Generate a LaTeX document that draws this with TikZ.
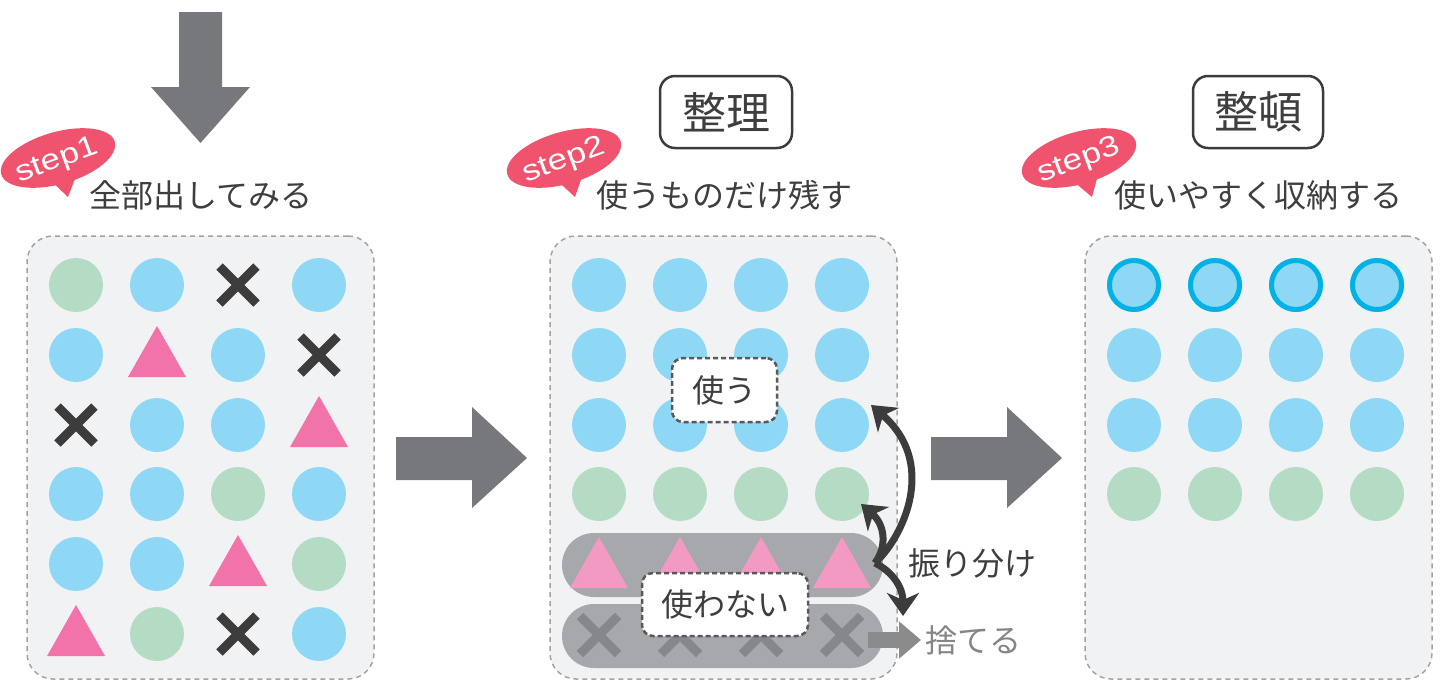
\documentclass[tikz,border=0pt]{standalone}
\usepackage{fontspec}
\setmainfont{Liberation Sans}
\newfontfamily\jp{Noto Sans CJK JP}
\usetikzlibrary{arrows.meta,shapes.geometric}
\definecolor{cpanel}{HTML}{F1F2F4}
\definecolor{cpanelborder}{HTML}{A3A3A3}
\definecolor{cblue}{HTML}{8ED8F6}
\definecolor{cgreen}{HTML}{B4DCC4}
\definecolor{cpink}{HTML}{F173AA}
\definecolor{cpinklight}{HTML}{F29AC3}
\definecolor{cdark}{HTML}{3C3C3C}
\definecolor{cxgray}{HTML}{86878A}
\definecolor{cpill}{HTML}{A7A8AB}
\definecolor{carrow}{HTML}{77787B}
\definecolor{cbadge}{HTML}{EF536D}
\definecolor{cring}{HTML}{00B2E6}
\definecolor{ctext}{HTML}{3E3E3E}
\definecolor{cgraytext}{HTML}{858585}
\definecolor{cgrayarrow}{HTML}{8A8B8D}
\tikzset{
  panel/.style={draw=cpanelborder, fill=cpanel, line width=1.5pt, dash pattern=on 5pt off 4pt, rounded corners=26pt, minimum width=347pt, minimum height=443pt, inner sep=0pt},
  pill/.style={fill=cpill, rounded corners=32pt, minimum width=321pt, minimum height=64pt, inner sep=0pt},
  tagbox/.style={draw=cdark!85, fill=white, line width=2.5pt, dash pattern=on 5pt off 3pt, rounded corners=11pt, inner sep=0pt, font=\jp\fontsize{32}{38}\selectfont, text=ctext},
  titlebox/.style={draw=cdark, line width=2.5pt, rounded corners=15pt, inner sep=0pt, font=\jp\fontsize{44}{50}\selectfont, text=ctext},
  label/.style={inner sep=0pt, font=\jp\fontsize{32}{38}\selectfont, text=ctext},
  badge/.style={ellipse, fill=cbadge, minimum width=118pt, minimum height=52pt, inner sep=0pt},
  steptxt/.style={inner sep=0pt, text=white, rotate=20, font=\fontsize{29}{30}\selectfont},
  bigarrow/.style={fill=carrow},
  sortarrow/.style={draw=cdark, line width=7pt, -{Stealth[length=23pt,width=32pt,inset=7pt]}},
  bc/.pic={\fill[cblue] (0,0) circle[radius=27];},
  gc/.pic={\fill[cgreen] (0,0) circle[radius=27];},
  rc/.pic={\fill[cblue] (0,0) circle[radius=27]; \draw[cring, line width=5pt] (0,0) circle[radius=24.5];},
  tri/.pic={\fill[cpink] (-29,22) -- (29,22) -- (0,-29) -- cycle;},
  ltri/.pic={\fill[cpinklight] (-29,22) -- (29,22) -- (0,-29) -- cycle;},
  xx/.pic={\draw[cdark, line width=9pt] (-18.5,-18.5) -- (18.5,18.5) (-18.5,18.5) -- (18.5,-18.5);},
  gx/.pic={\draw[cxgray, line width=9pt] (-19,-19) -- (19,19) (-19,19) -- (19,-19);},
}
\begin{document}
\begin{tikzpicture}[x=1pt,y=-1pt]
\useasboundingbox (0,0) rectangle (1440,680);
\clip (0,0) rectangle (1440,680);

% panels
\node[panel] (p1) at (200.5,457.5) {};
\node[panel] (p2) at (723.5,457.5) {};
\node[panel] (p3) at (1258.5,457.5) {};

% panel 1 contents
\pic at (76,285) {gc};  \pic at (157,285) {bc};  \pic at (238,285) {xx};  \pic at (319,285) {bc};
\pic at (76,355) {bc};  \pic at (157,355) {tri}; \pic at (238,355) {bc};  \pic at (319,355) {xx};
\pic at (76,425) {xx};  \pic at (157,425) {bc};  \pic at (238,425) {bc};  \pic at (319,425) {tri};
\pic at (76,494) {bc};  \pic at (157,494) {bc};  \pic at (238,494) {gc};  \pic at (319,494) {bc};
\pic at (76,564) {bc};  \pic at (157,564) {bc};  \pic at (238,564) {tri}; \pic at (319,564) {gc};
\pic at (76,634) {tri}; \pic at (157,634) {gc};  \pic at (238,634) {xx};  \pic at (319,634) {bc};

% panel 2 contents
\foreach \x in {599,680,761,842} {
  \pic at (\x,285) {bc};
  \pic at (\x,355) {bc};
  \pic at (\x,425) {bc};
  \pic at (\x,494) {gc};
}
\node[pill] (pillA) at (722.5,565) {};
\node[pill] (pillB) at (722.5,636) {};
\foreach \x in {599,680,761,842} {
  \pic at (\x,566) {ltri};
  \pic at (\x,635) {gx};
}
\node[tagbox, minimum width=105pt, minimum height=64pt] (use) at (724.5,390) {使う};
\node[tagbox, minimum width=166pt, minimum height=63pt] (nouse) at (725,604.5) {使わない};

% panel 3 contents
\foreach \x in {1134,1215,1296,1377} {
  \pic at (\x,285) {rc};
  \pic at (\x,355) {bc};
  \pic at (\x,425) {bc};
  \pic at (\x,494) {gc};
}

% big arrows
\fill[bigarrow] (179,12) -- (222,12) -- (222,87) -- (250,87) -- (200.5,143) -- (151,87) -- (179,87) -- cycle;
\fill[bigarrow] (396,437) -- (472,437) -- (472,407) -- (527,458) -- (472,508) -- (472,480) -- (396,480) -- cycle;
\fill[bigarrow] (931,437) -- (1007,437) -- (1007,407) -- (1062,458) -- (1007,508) -- (1007,480) -- (931,480) -- cycle;

% titles
\node[titlebox, minimum width=132pt, minimum height=72pt] (seiri) at (726,112) {整理};
\node[titlebox, minimum width=130pt, minimum height=72pt] (seiton) at (1258,112) {整頓};

% badges
\node[badge, rotate=16] (b1) at (58,158) {};
\fill[cbadge] (46,176) -- (68,197) -- (78,171) -- cycle;
\node[steptxt] (s1) at (57,161) {\scalebox{1.2}[1]{step1}};
\node[badge, rotate=16] (b2) at (564,158) {};
\fill[cbadge] (552,176) -- (575,197) -- (584,171) -- cycle;
\node[steptxt] (s2) at (564,161) {\scalebox{1.2}[1]{step2}};
\node[badge, rotate=16] (b3) at (1079,158) {};
\fill[cbadge] (1067,176) -- (1092,197) -- (1099,171) -- cycle;
\node[steptxt] (s3) at (1079,161) {\scalebox{1.2}[1]{step3}};

% step labels
\node[label] (l1) at (201,195) {全部出してみる};
\node[label] (l2) at (724,195) {使うものだけ残す};
\node[label] (l3) at (1258,195) {使いやすく収納する};

% sorting arrows
\coordinate (J) at (875,563);
\coordinate (tA) at (871,405);
\coordinate (tB) at (861,504);
\coordinate (tC) at (903,616);
\draw[sortarrow] (J) .. controls (905,535) and (937,462) .. (tA);
\draw[sortarrow] (J) .. controls (888,545) and (884,524) .. (tB);
\draw[sortarrow] (J) .. controls (893,572) and (903,588) .. (tC);
\node[label, anchor=west] (sort) at (908,563) {振り分け};

% discard
\node[label, anchor=west, text=cgraytext] (discard) at (925,640) {捨てる};
\coordinate (g0) at (868,640);
\draw[cgrayarrow, line width=16pt, -{Triangle[length=22pt,width=36pt]}] (g0) -- ([xshift=-4pt]discard.west);
\end{tikzpicture}
\end{document}
